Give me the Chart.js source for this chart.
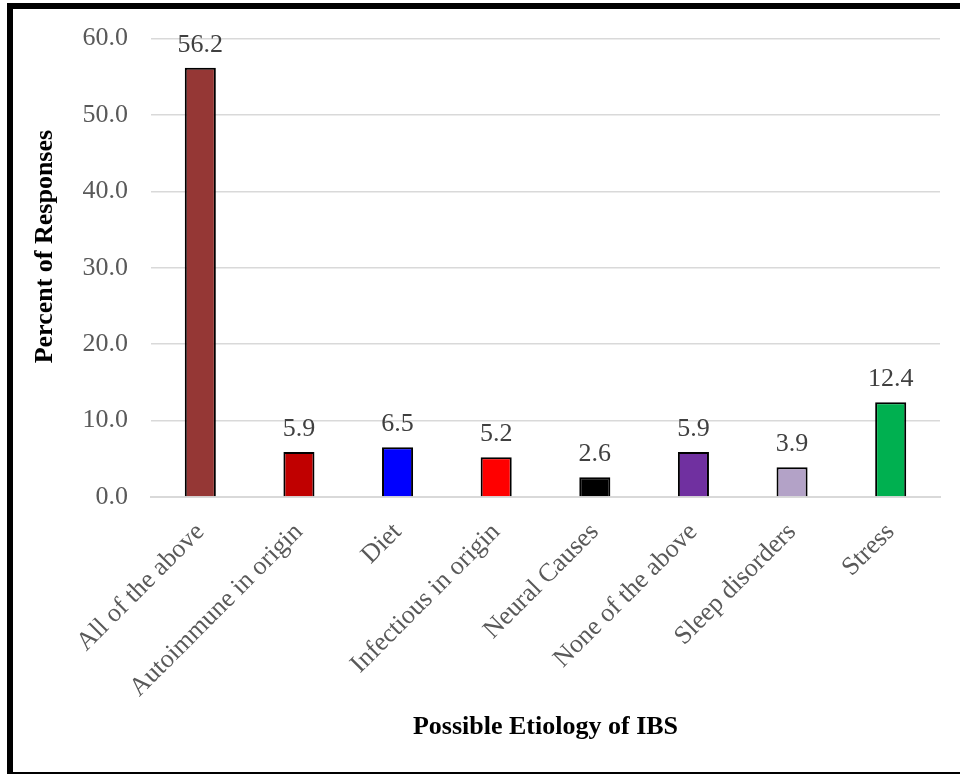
<!DOCTYPE html>
<html>
<head>
<meta charset="utf-8">
<script src="https://cdn.jsdelivr.net/npm/chart.js@4.4.1/dist/chart.umd.min.js"></script>
<style>
  html, body { margin: 0; padding: 0; background: #fff; overflow: hidden; }
  #wrap { position: absolute; left: 0; top: 0; width: 960px; height: 774px; }
  #frame {
    position: absolute; left: 7px; top: 3px; width: 1000px; height: 775px;
    border: 6px solid #000; box-sizing: border-box; pointer-events: none;
  }
</style>
</head>
<body>
<div id="wrap"><canvas id="c" width="960" height="774"></canvas></div>
<div id="frame"></div>
<script>
// Possible etiology of IBS, percent of responses
const categories = [
  'All of the above', 'Autoimmune in origin', 'Diet', 'Infectious in origin',
  'Neural Causes', 'None of the above', 'Sleep disorders', 'Stress'
];
const percentages = [56.2, 5.9, 6.5, 5.2, 2.6, 5.9, 3.9, 12.4];
const barColors = ['#953735', '#C00000', '#0000FF', '#FF0000', '#000000', '#7030A0', '#B3A2C7', '#00B050'];
const yTicks = [0, 10, 20, 30, 40, 50, 60];
const xTitle = 'Possible Etiology of IBS';
const yTitle = 'Percent of Responses';

const SERIF = '"Liberation Serif", "Times New Roman", serif';

// Value labels above each bar
const valueLabels = {
  id: 'valueLabels',
  afterDatasetsDraw(chart) {
    const ctx = chart.ctx;
    const meta = chart.getDatasetMeta(0);
    ctx.save();
    ctx.font = '26px ' + SERIF;
    ctx.fillStyle = '#404040';
    ctx.textAlign = 'center';
    ctx.textBaseline = 'alphabetic';
    meta.data.forEach((bar, i) => {
      ctx.fillText(percentages[i].toFixed(1), bar.x, bar.y - 16);
    });
    ctx.restore();
  }
};

// Vertical axis title
const yAxisTitle = {
  id: 'yAxisTitle',
  afterDraw(chart) {
    const ctx = chart.ctx;
    const area = chart.chartArea;
    ctx.save();
    ctx.translate(45, area.top + 208);
    ctx.rotate(-Math.PI / 2);
    ctx.font = 'bold 26px ' + SERIF;
    ctx.fillStyle = '#000';
    ctx.textAlign = 'center';
    ctx.textBaseline = 'middle';
    ctx.fillText(yTitle, 0, 0);
    ctx.restore();
  }
};

new Chart(document.getElementById('c'), {
  type: 'bar',
  data: {
    labels: categories,
    datasets: [{
      data: percentages,
      backgroundColor: barColors,
      borderColor: '#000',
      borderWidth: 2,
      categoryPercentage: 1,
      barPercentage: 0.315
    }]
  },
  options: {
    responsive: false,
    animation: false,
    layout: { padding: { left: 0, top: 36, right: 20, bottom: 0 } },
    plugins: { legend: { display: false }, tooltip: { enabled: false } },
    scales: {
      x: {
        afterFit(scale) { scale.height = 277; },
        grid: { display: false, drawTicks: false },
        border: { display: true, color: '#d9d9d9', width: 2 },
        ticks: {
          color: '#595959',
          font: { family: SERIF, size: 26 },
          minRotation: 45, maxRotation: 45,
          padding: 20,
          autoSkip: false
        },
        title: {
          display: true, text: xTitle, color: '#000',
          font: { family: SERIF, size: 26, weight: 'bold' },
          padding: { top: 0, bottom: 31 }
        }
      },
      y: {
        min: 0, max: 60,
        afterFit(scale) { scale.width = 151; },
        afterBuildTicks(scale) { scale.ticks = yTicks.map(v => ({ value: v })); },
        grid: { color: '#d9d9d9', lineWidth: 1.5, drawTicks: false },
        border: { display: false },
        ticks: {
          color: '#595959',
          font: { family: SERIF, size: 26 },
          padding: 23,
          callback: v => Number(v).toFixed(1)
        }
      }
    }
  },
  plugins: [valueLabels, yAxisTitle]
});
</script>
</body>
</html>
